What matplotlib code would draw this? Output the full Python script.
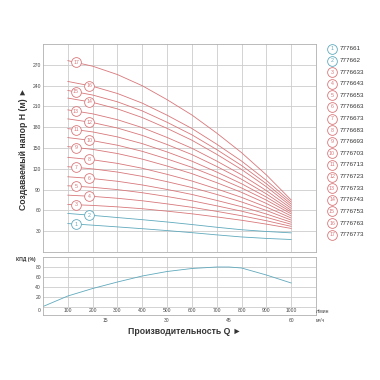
import numpy as np
import matplotlib
matplotlib.use("Agg")
import matplotlib.pyplot as plt

plt.rcParams['font.family'] = ['Liberation Sans', 'DejaVu Sans']

# ---- data ----
q = [100, 200, 300, 400, 500, 600, 700, 800, 900, 1000]          # л/мин
heads = [
    [41.0, 38.7, 36.2, 33.6, 30.9, 27.9, 24.7, 21.7, 19.6, 18.0],      # 1
    [55.6, 52.8, 49.7, 46.6, 43.3, 39.6, 35.7, 32.1, 29.6, 27.6],      # 2
    [68.6, 67.2, 65.1, 62.4, 58.9, 55.1, 50.6, 45.8, 40.2, 34.0],      # 3
    [82.0, 80.2, 77.5, 73.9, 69.4, 64.5, 58.6, 52.3, 45.1, 37.0],      # 4
    [95.5, 93.3, 90.0, 85.5, 80.0, 73.9, 66.6, 58.9, 50.0, 40.0],      # 5
    [108.5, 105.9, 102.0, 96.7, 90.2, 83.0, 74.4, 65.3, 54.8, 43.0],   # 6
    [123.0, 119.9, 115.3, 109.1, 101.4, 93.0, 83.0, 72.2, 59.9, 46.0], # 7
    [136.5, 133.0, 127.8, 120.8, 112.0, 102.4, 91.0, 78.8, 64.8, 49.0],# 8
    [152.0, 148.0, 142.0, 134.0, 124.0, 113.0, 100.0, 86.0, 70.0, 52.0],
    [165.0, 160.6, 154.0, 145.2, 134.2, 122.1, 107.8, 92.4, 74.8, 55.0],
    [178.0, 173.2, 166.0, 156.3, 144.3, 131.0, 115.3, 98.5, 79.2, 57.5],
    [192.0, 186.7, 178.8, 168.2, 155.0, 140.5, 123.4, 104.9, 83.8, 60.0],
    [205.0, 199.3, 190.8, 179.4, 165.2, 149.6, 131.2, 111.3, 88.6, 63.0],
    [222.0, 215.8, 206.4, 193.9, 178.3, 161.2, 140.9, 119.0, 94.1, 66.0],
    [233.0, 226.4, 216.6, 203.5, 187.1, 169.0, 147.7, 124.8, 98.5, 69.0],
    [246.0, 239.0, 228.6, 214.7, 197.3, 178.1, 155.5, 131.2, 103.3, 72.0],
    [276.0, 268.0, 255.9, 239.8, 219.7, 197.6, 171.5, 143.3, 111.2, 75.0],
]
models = ["777661", "777662", "7776633", "7776643", "7776653", "7776663",
          "7776673", "7776683", "7776693", "7776703", "7776713", "7776723",
          "7776733", "7776743", "7776753", "7776763", "7776773"]

eff_q = [0, 100, 200, 300, 400, 500, 600, 700, 750, 800, 900, 1000]
eff = [1, 22, 37, 50, 62, 71, 77, 80, 80, 78, 64, 48]

m3h_q = [250, 500, 750, 1000]
m3h_lbl = ["15", "30", "45", "60"]

RED = "#d8777a"
CYAN = "#5fa9bd"
GRID = "#cccccc"
TXT = "#444444"

def col(i):
    return CYAN if i < 2 else RED

fig = plt.figure(figsize=(3.8, 3.8), dpi=100)

# ---- main H-Q ----
ax = fig.add_axes([43/380, 1-252/380, 273/380, 208/380])
ax.set_xlim(0, 1100); ax.set_ylim(0, 300)
ax.set_xticks(range(100, 1001, 100)); ax.set_xticklabels([])
ax.set_yticks(range(30, 271, 30))
ax.tick_params(length=0, labelsize=3.6, labelcolor=TXT, pad=1.5)
ax.grid(color=GRID, lw=0.6)
for s in ax.spines.values(): s.set_color("#b0b0b0"); s.set_linewidth(0.6)

for i, h in enumerate(heads):
    ax.plot(q, h, color=col(i), lw=0.6)
    lq = 133 if i % 2 == 0 else 187
    lh = np.interp(lq, q, h)
    ax.plot(lq, lh, "o", ms=7, mfc="white", mec=col(i), mew=0.6)
    ax.text(lq, lh, str(i + 1), fontsize=3.8, color=col(i), ha="center", va="center")

fig.text(23.5/380, 1-149/380, "Создаваемый напор H (м) ►", rotation=90,
         ha="center", va="center", fontsize=6.2, fontweight="bold", color="#333333")

# ---- efficiency ----
ax2 = fig.add_axes([43/380, 1-315/380, 273/380, 58/380])
ax2.set_xlim(0, 1100); ax2.set_ylim(-16, 100)
ax2.set_xticks(range(100, 1001, 100)); ax2.set_xticklabels([])
ax2.set_yticks([0, 20, 40, 60, 80]); ax2.set_yticklabels(["", "20", "40", "60", "80"])
ax2.tick_params(length=0, labelsize=3.6, labelcolor=TXT, pad=1.5)
ax2.grid(False)
for y in [0, 20, 40, 60, 80]:
    ax2.axhline(y, color=GRID, lw=0.6)
ax2.vlines(range(100, 1001, 100), 0, 100, color=GRID, lw=0.6)
for s in ax2.spines.values(): s.set_color("#b0b0b0"); s.set_linewidth(0.6)
ax2.plot(eff_q, eff, color=CYAN, lw=0.6)
for x in range(100, 1001, 100):
    ax2.text(x, -6, str(x), fontsize=3.6, color=TXT, ha="center", va="center")
ax2.text(-8, -6, "0", fontsize=3.6, color=TXT, ha="right", va="center", clip_on=False)
for x, l in zip(m3h_q, m3h_lbl):
    ax2.text(x, -26, l, fontsize=3.6, color=TXT, ha="center", va="center", clip_on=False)
ax2.text(1100, -9, "л/мин", fontsize=3.6, color=TXT, ha="left", va="center", clip_on=False)
ax2.text(1100, -26, "м³/ч", fontsize=3.6, color=TXT, ha="left", va="center", clip_on=False)

fig.text(26/380, 1-259.5/380, "КПД (%)", fontsize=3.6, color="#333333",
         fontweight="bold", ha="center", va="center")
fig.text(185/380, 1-331/380, "Производительность Q ►", fontsize=6.2,
         fontweight="bold", color="#333333", ha="center", va="center")

# ---- legend ----
for i, m in enumerate(models):
    y = 1 - (49 + 11.6*i)/380
    fig.lines.append(plt.Line2D([332/380], [y], marker="o", ms=7, mfc="white",
                                mec=col(i), mew=0.6, transform=fig.transFigure))
    fig.text(332/380, y, str(i + 1), fontsize=3.8, color=col(i), ha="center", va="center")
    fig.text(340/380, y, m, fontsize=4.5, color="#333333", ha="left", va="center")

fig.savefig("out.png", dpi=100)
